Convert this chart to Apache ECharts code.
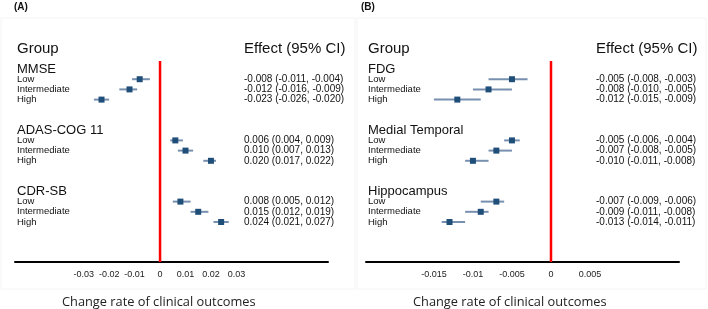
<!DOCTYPE html>
<html>
<head>
<meta charset="utf-8">
<script src="https://cdn.jsdelivr.net/npm/echarts@6/dist/echarts.min.js"></script>
<style>
	html, body { margin: 0; padding: 0; background: #ffffff; }
	#chart { width: 708px; height: 309px; }
</style>
</head>
<body>
<div id="chart"></div>
<script>
// 两个森林图：(A) 临床量表，(B) 影像指标
var levels = ['Low', 'Intermediate', 'High'];

var groupsA = ['MMSE', 'ADAS-COG 11', 'CDR-SB'];
var estA = [-0.008, -0.012, -0.023, 0.006, 0.010, 0.020, 0.008, 0.015, 0.024];
var lowerA = [-0.011, -0.016, -0.026, 0.004, 0.007, 0.017, 0.005, 0.012, 0.021];
var upperA = [-0.004, -0.009, -0.020, 0.009, 0.013, 0.022, 0.012, 0.019, 0.027];
var ticksA = [-0.03, -0.02, -0.01, 0, 0.01, 0.02, 0.03];

var groupsB = ['FDG', 'Medial Temporal', 'Hippocampus'];
var estB = [-0.005, -0.008, -0.012, -0.005, -0.007, -0.010, -0.007, -0.009, -0.013];
var lowerB = [-0.008, -0.010, -0.015, -0.006, -0.008, -0.011, -0.009, -0.011, -0.014];
var upperB = [-0.003, -0.005, -0.009, -0.004, -0.005, -0.008, -0.006, -0.008, -0.011];
var ticksB = [-0.015, -0.01, -0.005, 0, 0.005];

var headLeft = 'Group';
var headRight = 'Effect (95% CI)';
var xTitle = 'Change rate of clinical outcomes';
var panelTags = ['(A)', '(B)'];

var FONT = '"Liberation Sans", Arial, sans-serif';
var MARK = '#1f4e79';
var WHISKER = '#7890b0';

// 每组占6行：组名、Low、Intermediate、High、两行空白
function rowOf(g, l) {
	return g * 6 + 1 + l;
}

function forestData(est, lower, upper) {
	var t = [];
	for (var i = 0; i < est.length; i++) {
		t.push([est[i], lower[i], upper[i], rowOf(Math.floor(i / 3), i % 3)]);
	}
	return t;
}

// 左侧文字列：[行号, 文字, 字号]
function leftText(groups) {
	var t = [[-2, headLeft, 15]];
	for (var g = 0; g < groups.length; g++) {
		t.push([g * 6, groups[g], 13]);
		for (var l = 0; l < levels.length; l++) {
			t.push([rowOf(g, l), levels[l], 9.5]);
		}
	}
	return t;
}

function rightText(est, lower, upper) {
	var t = [[-2, headRight, 15]];
	for (var i = 0; i < est.length; i++) {
		var s = est[i].toFixed(3) + ' (' + lower[i].toFixed(3) + ', ' + upper[i].toFixed(3) + ')';
		t.push([rowOf(Math.floor(i / 3), i % 3), s, 10]);
	}
	return t;
}

function renderForest(params, api) {
	var row = api.value(3);
	var p = api.coord([api.value(0), row]);
	var a = api.coord([api.value(1), row]);
	var b = api.coord([api.value(2), row]);
	return {
		type: 'group',
		children: [{
			type: 'line',
			shape: { x1: a[0], y1: a[1], x2: b[0], y2: b[1] },
			style: { stroke: WHISKER, lineWidth: 2 }
		}, {
			type: 'rect',
			shape: { x: p[0] - 3, y: p[1] - 3, width: 6, height: 6 },
			style: { fill: MARK }
		}]
	};
}

function textSeries(idx, colX, rows, dx) {
	return {
		type: 'custom',
		xAxisIndex: idx,
		yAxisIndex: idx,
		silent: true,
		clip: false,
		data: rows.map(function (r) { return [colX, r[0]]; }),
		encode: { x: 0, y: 1 },
		renderItem: function (params, api) {
			var r = rows[params.dataIndex];
			var p = api.coord([colX, r[0]]);
			return {
				type: 'text',
				x: p[0] + dx,
				y: p[1],
				style: {
					text: r[1],
					fill: '#111',
					font: r[2] + 'px ' + FONT,
					textAlign: 'left',
					textVerticalAlign: 'middle'
				}
			};
		}
	};
}

var yMin = -2, yMax = 18.92;
var xRangeA = [-0.057, 0.066];
var xRangeB = [-0.0237, 0.0164];

function makeX(idx, range, ticks) {
	return {
		type: 'value',
		gridIndex: idx,
		min: range[0],
		max: range[1],
		splitLine: { show: false },
		axisTick: { show: false },
		axisLine: { onZero: false, lineStyle: { color: '#000', width: 2 } },
		axisLabel: {
			customValues: ticks,
			formatter: function (v) { return String(v); },
			color: '#222',
			fontSize: 9,
			fontFamily: FONT,
			margin: 8
		}
	};
}

function makeY(idx) {
	return {
		type: 'value',
		gridIndex: idx,
		inverse: true,
		min: yMin,
		max: yMax,
		show: false
	};
}

var dom = document.getElementById('chart');
var myChart = echarts.init(dom, null, { renderer: 'canvas' });

var option = {
	backgroundColor: '#ffffff',
	animation: false,
	title: [{
		text: panelTags[0], left: 14, top: 2, padding: 0,
		textStyle: { fontSize: 10, fontWeight: 'bold', fontFamily: FONT, color: '#111' }
	}, {
		text: panelTags[1], left: 361, top: 2, padding: 0,
		textStyle: { fontSize: 10, fontWeight: 'bold', fontFamily: FONT, color: '#111' }
	}, {
		text: xTitle, left: 62, top: 296, padding: 0,
		textStyle: { fontSize: 12.8, fontWeight: 'normal', fontFamily: '"Open Sans", sans-serif', color: '#222' }
	}, {
		text: xTitle, left: 413, top: 296, padding: 0,
		textStyle: { fontSize: 12.8, fontWeight: 'normal', fontFamily: '"Open Sans", sans-serif', color: '#222' }
	}],
	graphic: [{
		type: 'rect', shape: { x: 1, y: 18, width: 354, height: 271 },
		style: { fill: 'none', stroke: '#f4f4f4', lineWidth: 1 }, silent: true
	}, {
		type: 'rect', shape: { x: 357, y: 18, width: 349, height: 271 },
		style: { fill: 'none', stroke: '#f4f4f4', lineWidth: 1 }, silent: true
	}],
	grid: [
		{ left: 15, width: 313, top: 48.6, height: 213.4 },
		{ left: 366, width: 313, top: 48.6, height: 213.4 }
	],
	xAxis: [makeX(0, xRangeA, ticksA), makeX(1, xRangeB, ticksB)],
	yAxis: [makeY(0), makeY(1)],
	series: [
		{
			type: 'line', xAxisIndex: 0, yAxisIndex: 0, symbol: 'none', silent: true,
			lineStyle: { color: '#ff0000', width: 2.5 },
			data: [[0, -0.78], [0, yMax]]
		},
		{
			type: 'line', xAxisIndex: 1, yAxisIndex: 1, symbol: 'none', silent: true,
			lineStyle: { color: '#ff0000', width: 2.5 },
			data: [[0, -0.78], [0, yMax]]
		},
		{
			type: 'custom', xAxisIndex: 0, yAxisIndex: 0, silent: true,
			encode: { x: [0, 1, 2], y: 3 },
			renderItem: renderForest,
			data: forestData(estA, lowerA, upperA)
		},
		{
			type: 'custom', xAxisIndex: 1, yAxisIndex: 1, silent: true,
			encode: { x: [0, 1, 2], y: 3 },
			renderItem: renderForest,
			data: forestData(estB, lowerB, upperB)
		},
		textSeries(0, xRangeA[0], leftText(groupsA), 2),
		textSeries(1, xRangeB[0], leftText(groupsB), 2),
		textSeries(0, 0.033, rightText(estA, lowerA, upperA), 0),
		textSeries(1, 0.00577, rightText(estB, lowerB, upperB), 0)
	]
};
myChart.setOption(option);
</script>
</body>
</html>
